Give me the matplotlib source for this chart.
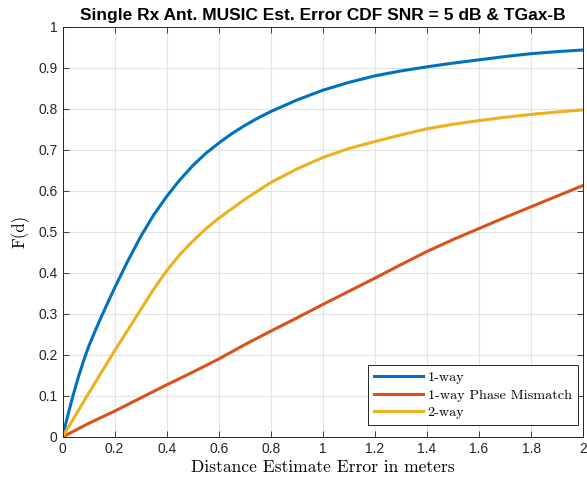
import matplotlib
matplotlib.use("Agg")
import matplotlib.pyplot as plt

# 1-way
x_one = [0, 0.02, 0.04, 0.06, 0.08, 0.1, 0.125, 0.15, 0.175, 0.2, 0.25, 0.3, 0.35, 0.4,
         0.45, 0.5, 0.55, 0.6, 0.65, 0.7, 0.75, 0.8, 0.9, 1.0, 1.1, 1.2, 1.3, 1.4, 1.5,
         1.6, 1.7, 1.8, 1.9, 2.0]
f_one = [0, 0.052, 0.100, 0.144, 0.184, 0.220, 0.258, 0.294, 0.329, 0.363, 0.428, 0.488,
         0.541, 0.586, 0.626, 0.661, 0.691, 0.716, 0.739, 0.759, 0.777, 0.793, 0.821, 0.845,
         0.864, 0.880, 0.892, 0.902, 0.911, 0.919, 0.927, 0.934, 0.939, 0.943]

# 1-way phase mismatch
x_pm = [0, 0.1, 0.2, 0.3, 0.4, 0.5, 0.6, 0.7, 0.8, 0.9, 1.0, 1.1, 1.2, 1.3, 1.4, 1.5,
        1.6, 1.7, 1.8, 1.9, 2.0]
f_pm = [0, 0.033, 0.063, 0.095, 0.127, 0.158, 0.19, 0.225, 0.258, 0.29, 0.323, 0.355,
        0.387, 0.42, 0.452, 0.481, 0.508, 0.535, 0.561, 0.587, 0.613]

# 2-way
x_two = [0, 0.05, 0.1, 0.2, 0.3, 0.35, 0.4, 0.45, 0.5, 0.55, 0.6, 0.7, 0.8, 0.9, 1.0,
         1.1, 1.2, 1.3, 1.4, 1.5, 1.6, 1.7, 1.8, 1.9, 2.0]
f_two = [0, 0.053, 0.106, 0.21, 0.31, 0.36, 0.405, 0.444, 0.477, 0.507, 0.533, 0.579,
         0.62, 0.653, 0.681, 0.703, 0.72, 0.736, 0.751, 0.762, 0.771, 0.779, 0.786,
         0.792, 0.797]

labels = ["1-way", "1-way Phase Mismatch", "2-way"]
colors = ["#0072BD", "#D95319", "#EDB120"]

sans = "Liberation Sans"
serif = "cmr10"

fig = plt.figure(figsize=(5.87, 4.87), dpi=100)
ax = fig.add_axes([0.1065, 0.1027, 0.887, 0.8427])

for xs, ys, lab, c in zip([x_one, x_pm, x_two], [f_one, f_pm, f_two], labels, colors):
    ax.plot(xs, ys, color=c, linewidth=2.2, label=lab)

ax.set_xlim(0, 2)
ax.set_ylim(0, 1)
ax.set_xticks([i * 0.2 for i in range(11)])
ax.set_yticks([i * 0.1 for i in range(11)])
ax.set_xticklabels(["0", "0.2", "0.4", "0.6", "0.8", "1", "1.2", "1.4", "1.6", "1.8", "2"])
ax.set_yticklabels(["0", "0.1", "0.2", "0.3", "0.4", "0.5", "0.6", "0.7", "0.8", "0.9", "1"])
for t in ax.get_xticklabels() + ax.get_yticklabels():
    t.set_fontfamily(sans)
    t.set_fontsize(10)
    t.set_color("#262626")

ax.tick_params(direction="in", length=4, width=0.6, top=True, right=True, colors="#262626")
ax.grid(True, color="#e3e3e3", linewidth=0.8)
ax.set_axisbelow(True)
for s in ax.spines.values():
    s.set_color("#262626")
    s.set_linewidth(0.7)

ax.set_xlabel("Distance Estimate Error in meters", fontfamily=serif, fontsize=12.6, labelpad=3)
ax.set_ylabel("F(d)", fontfamily=serif, fontsize=12, labelpad=6)
ax.set_title("Single Rx Ant. MUSIC Est. Error CDF SNR = 5 dB & TGax-B",
             fontfamily=sans, fontweight="bold", fontsize=12.5, pad=5)

leg = ax.legend(loc="lower right", bbox_to_anchor=(0.99, 0.029),
                prop={"family": serif, "size": 10.2}, handlelength=3.4,
                fancybox=False, framealpha=1, edgecolor="#262626", borderaxespad=0,
                labelspacing=0.3, handletextpad=0.35, borderpad=0.45)
leg.get_frame().set_linewidth(0.7)

fig.savefig("out.png", dpi=100)
